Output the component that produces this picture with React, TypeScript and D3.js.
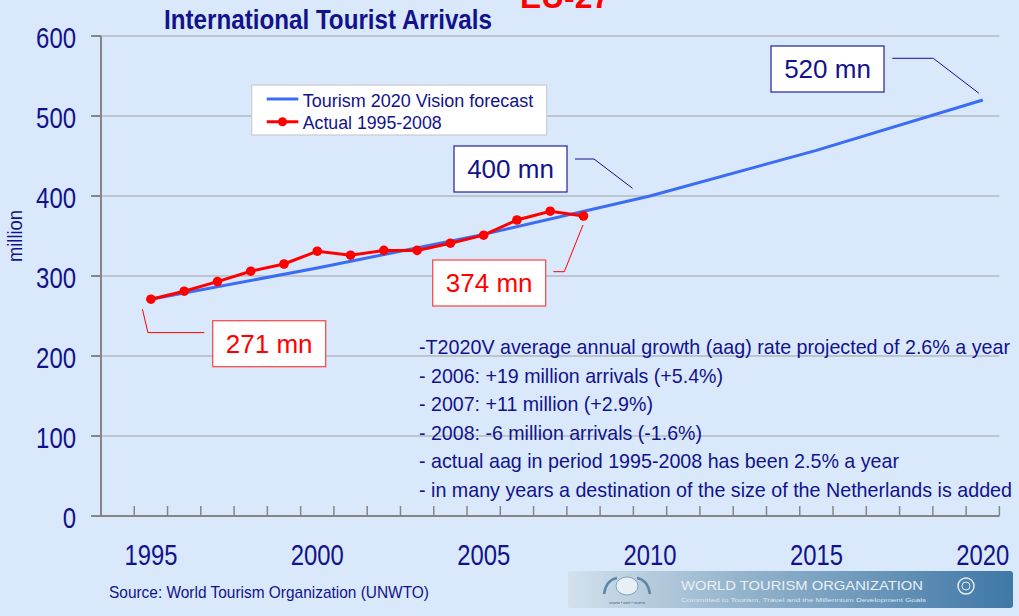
import React from "react";
import * as d3 from "d3";

const actualYears = [1995, 1996, 1997, 1998, 1999, 2000, 2001, 2002, 2003, 2004, 2005, 2006, 2007, 2008];
const actualValues = [271, 281, 293, 306, 315, 331, 326, 332, 332, 341, 351, 370, 381, 375];
const forecastYears = [1995, 2000, 2005, 2010, 2015, 2020];
const forecastValues = [271, 310, 352, 400, 457, 520];
const yTicks = [0, 100, 200, 300, 400, 500, 600];
const xLabels = [1995, 2000, 2005, 2010, 2015, 2020];
const seriesNames = ["Tourism 2020 Vision forecast", "Actual 1995-2008"];
const notes = [
  "-T2020V average annual growth (aag) rate projected of 2.6% a year",
  "- 2006: +19 million arrivals (+5.4%)",
  "- 2007: +11 million (+2.9%)",
  "- 2008: -6 million arrivals (-1.6%)",
  "- actual aag in period 1995-2008 has been 2.5% a year",
  "- in many years a destination of the size of the Netherlands is added",
];
const noteWidths = [591, 304, 234, 283, 480, 593];
const callouts = [
  { text: "271 mn", year: 1995, value: 271, kind: "actual" },
  { text: "374 mn", year: 2008, value: 375, kind: "actual" },
  { text: "400 mn", year: 2010, value: 400, kind: "forecast" },
  { text: "520 mn", year: 2020, value: 520, kind: "forecast" },
];

const NAVY = "#12128c";
const RED = "#ff0000";
const BLUE = "#3a6cf4";
const BG = "#d9e9fb";
const NARROW = "'Liberation Sans Narrow', 'Arial Narrow', 'Liberation Sans', Arial, sans-serif";
const SANS = "'Liberation Sans', Arial, sans-serif";

export default function App() {
  const W = 1019, H = 616;
  const x = d3.scaleLinear().domain([1993.5, 2020.5]).range([101, 999.4]);
  const y = d3.scaleLinear().domain([0, 600]).range([516, 36]);
  const fLine = d3.line<[number, number]>().x(d => x(d[0])).y(d => y(d[1]));
  const fPath = fLine(forecastYears.map((yr, i) => [yr, forecastValues[i]] as [number, number]));
  const aPath = fLine(actualYears.map((yr, i) => [yr, actualValues[i]] as [number, number]));
  const minor = d3.range(1994.5, 2021, 1);

  const boxes = [
    { bx: 212.7, by: 320.7, leader: (px: number, py: number) => [[px - 8.5, py + 10], [px - 3, py + 33.4], [204.3, py + 33.4]] },
    { bx: 432.7, by: 260, leader: (px: number, py: number) => [[553.3, 271.7], [564.3, 271.7], [px - 0.5, py + 9]] },
    { bx: 454, by: 146, leader: (px: number, py: number) => [[575, 159], [594, 159], [px - 17.5, py - 7.7]] },
    { bx: 771, by: 46, leader: (px: number, py: number) => [[892.3, 58.3], [933.3, 58.3], [px - 3.8, py - 6.7]] },
  ];

  return (
    <svg width={W} height={H} style={{ position: "absolute", left: 0, top: 0, background: BG }}>
      <defs>
        <linearGradient id="wto" x1="0" x2="1" y1="0" y2="0">
          <stop offset="0" stopColor="#d3e1ec" />
          <stop offset="0.35" stopColor="#9ab8cf" />
          <stop offset="1" stopColor="#3f77a6" />
        </linearGradient>
      </defs>
      <rect x={0} y={0} width={W} height={H} fill={BG} />

      <text x={520} y={8} fill={RED} fontFamily={SANS} fontWeight="bold" fontSize={32} textLength={90} lengthAdjust="spacingAndGlyphs">EU-27</text>

      <text x={164} y={29} fill={NAVY} fontFamily={NARROW} fontWeight="bold" fontSize={27} textLength={328} lengthAdjust="spacingAndGlyphs">International Tourist Arrivals</text>

      {yTicks.filter(t => t > 0).map(t => (
        <line key={"g" + t} x1={101} x2={999.4} y1={y(t)} y2={y(t)} stroke="#b5b9c0" strokeWidth={1.6} />
      ))}
      <line x1={101} x2={101} y1={y(600)} y2={y(0)} stroke="#858585" strokeWidth={2} />
      {yTicks.map(t => (
        <g key={"yt" + t}>
          <line x1={91} x2={101} y1={y(t)} y2={y(t)} stroke="#858585" strokeWidth={2} />
          <text x={76} y={y(t) + 12} textAnchor="end" fill={NAVY} fontFamily={NARROW} fontSize={30}
            textLength={String(t).length * 13.3} lengthAdjust="spacingAndGlyphs">{t}</text>
        </g>
      ))}
      <text transform={`translate(22,236) rotate(-90)`} textAnchor="middle" fill={NAVY} fontFamily={NARROW} fontSize={20}
        textLength={52} lengthAdjust="spacingAndGlyphs">million</text>

      <line x1={91} x2={999.4} y1={y(0)} y2={y(0)} stroke="#858585" strokeWidth={2} />
      {minor.map(m => (
        <line key={"xt" + m} x1={x(m)} x2={x(m)} y1={y(0)} y2={y(0) - 10} stroke="#858585" strokeWidth={1.5} />
      ))}
      {xLabels.map(l => (
        <text key={"xl" + l} x={x(l)} y={565} textAnchor="middle" fill={NAVY} fontFamily={NARROW} fontSize={30}
          textLength={53} lengthAdjust="spacingAndGlyphs">{l}</text>
      ))}

      {notes.map((n, i) => (
        <text key={"n" + i} x={419} y={354 + i * 28.5} fill={NAVY} fontFamily={NARROW} fontSize={21} textLength={noteWidths[i]} lengthAdjust="spacingAndGlyphs">{n}</text>
      ))}

      <path d={fPath || ""} fill="none" stroke={BLUE} strokeWidth={3} />
      <path d={aPath || ""} fill="none" stroke={RED} strokeWidth={3} />
      {actualYears.map((yr, i) => (
        <circle key={"p" + yr} cx={x(yr)} cy={y(actualValues[i])} r={4.8} fill={RED} />
      ))}

      {callouts.map((c, i) => {
        const px = x(c.year), py = y(c.value);
        const b = boxes[i];
        const col = c.kind === "actual" ? RED : NAVY;
        const pts = b.leader(px, py);
        return (
          <g key={"c" + i}>
            <polyline points={pts.map(p => p.join(",")).join(" ")} fill="none" stroke={col} strokeWidth={1} />
            <rect x={b.bx} y={b.by} width={113} height={46} fill="#ffffff" stroke={c.kind === "actual" ? "#ff4040" : "#2020a0"} strokeWidth={1.2} />
            <text x={b.bx + 56.5} y={b.by + 32} textAnchor="middle" fill={col} fontFamily={SANS} fontSize={26}>{c.text}</text>
          </g>
        );
      })}

      <rect x={251.7} y={85} width={295} height={50} fill="#ffffff" stroke="#c8ccd2" strokeWidth={1.2} />
      <line x1={266.7} x2={298.3} y1={99} y2={99} stroke={BLUE} strokeWidth={3} />
      <line x1={266.7} x2={298.3} y1={121.7} y2={121.7} stroke={RED} strokeWidth={3} />
      <circle cx={282.5} cy={121.7} r={4.5} fill={RED} />
      <text x={302.7} y={106.5} fill={NAVY} fontFamily={SANS} fontSize={18} textLength={230.6} lengthAdjust="spacingAndGlyphs">{seriesNames[0]}</text>
      <text x={302.7} y={128.5} fill={NAVY} fontFamily={SANS} fontSize={18} textLength={139} lengthAdjust="spacingAndGlyphs">{seriesNames[1]}</text>

      <text x={109} y={598} fill={NAVY} fontFamily={NARROW} fontSize={17} textLength={320} lengthAdjust="spacingAndGlyphs">Source: World Tourism Organization (UNWTO)</text>

      <rect x={568} y={571} width={445} height={37} rx={3} fill="url(#wto)" />
      <ellipse cx={627} cy={586} rx={11} ry={9} fill="#e8f0f6" stroke="#7fa3c0" strokeWidth={1} />
      <path d="M604,594 Q606,580 617,578" fill="none" stroke="#5f86a8" strokeWidth={2.5} />
      <path d="M650,594 Q648,580 637,578" fill="none" stroke="#5f86a8" strokeWidth={2.5} />
      <text x={627} y={604} textAnchor="middle" fill="#3d5f80" fontFamily={SANS} fontSize={4}>unwto • omt • юнвто</text>
      <text x={681} y={590} fill="#e9f1f7" fontFamily={SANS} fontSize={13} textLength={242} lengthAdjust="spacingAndGlyphs">WORLD TOURISM ORGANIZATION</text>
      <text x={681} y={602} fill="#dbe7f0" fontFamily={SANS} fontSize={6} textLength={245} lengthAdjust="spacingAndGlyphs">Committed to Tourism, Travel and the Millennium Development Goals</text>
      <circle cx={966} cy={586} r={8} fill="none" stroke="#e4edf4" strokeWidth={1.5} />
      <circle cx={966} cy={586} r={4} fill="none" stroke="#e4edf4" strokeWidth={1} />
    </svg>
  );
}
